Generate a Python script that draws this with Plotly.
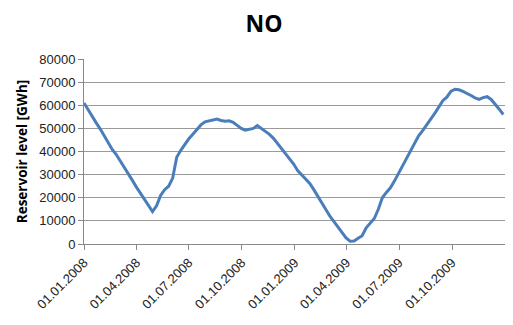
import datetime as dt
import plotly.graph_objects as go

start = dt.date(2008, 1, 1)
levels = [
    61000, 58000, 55200, 52500, 49800, 46900, 43800, 40900, 38700, 36000,
    33200, 30400, 27500, 24600, 21800, 19000, 16300, 14000, 16500, 21000,
    23500, 25000, 28500, 37500, 40500, 43200, 45500, 47500, 49500, 51500,
    52800, 53300, 53600, 54000, 53400, 53100, 53300, 52600, 51300, 50000,
    49200, 49600, 50000, 51200, 50000, 48600, 47400, 45700, 43500, 41000,
    39000, 36800, 34600, 31800, 30000, 28300, 26200, 23500, 20500, 17500,
    14700, 12000, 9700, 7300, 5000, 2600, 1200, 1300, 2500, 3600,
    7000, 8800, 11000, 15000, 20000, 22300, 24300, 27200, 30500, 34200,
    37400, 40800, 43800, 46800, 49000, 51300, 54000, 56500, 59500, 62000,
    63500, 66000, 66900, 66700, 66000, 65200, 64200, 63200, 62500, 63300,
    63700, 62500, 60500, 58300, 56000,
]
dates = [start + dt.timedelta(days=7 * i) for i in range(len(levels))]

tick_dates = ["2008-01-01", "2008-04-01", "2008-07-01", "2008-10-01",
              "2009-01-01", "2009-04-01", "2009-07-01", "2009-10-01", "2010-01-01"]
tick_labels = ["01.01.2008", "01.04.2008", "01.07.2008", "01.10.2008",
               "01.01.2009", "01.04.2009", "01.07.2009", "01.10.2009", ""]
y_ticks = [0, 10000, 20000, 30000, 40000, 50000, 60000, 70000, 80000]
y_labels = [str(v) for v in y_ticks]

fig = go.Figure()
fig.add_trace(go.Scatter(x=dates, y=levels, mode="lines",
                         line=dict(color="#4A7EBB", width=3)))

fig.update_layout(
    width=497, height=309,
    margin=dict(l=76, r=0, t=51, b=73),
    paper_bgcolor="white", plot_bgcolor="white",
    showlegend=False,
    font=dict(family="Liberation Sans, Arial, sans-serif", color="#222"),
    title=dict(text="<b>NO</b>", x=0.515, xanchor="center", y=0.948, yanchor="middle",
               font=dict(size=23, color="black", family="Open Sans, sans-serif")),
)
fig.update_xaxes(
    range=["2008-01-01", "2010-01-01"], automargin=False,
    tickmode="array", tickvals=tick_dates, ticktext=tick_labels,
    tickangle=-45, ticks="outside", ticklen=5, tickcolor="#888",
    showgrid=False, showline=True, linecolor="#888", linewidth=1,
    tickfont=dict(size=13, color="#222"),
)
fig.update_yaxes(
    range=[0, 80000], automargin=False, tickmode="array",
    tickvals=y_ticks, ticktext=y_labels,
    ticks="outside", ticklen=5, tickcolor="#888",
    showgrid=True, gridcolor="#9a9a9a", gridwidth=1,
    showline=True, linecolor="#888", linewidth=1, zeroline=False,
    tickfont=dict(size=13, color="#222"),
    title=dict(text="<b>Reservoir level [GWh]</b>", standoff=8,
               font=dict(size=13.5, color="black", family="Open Sans, sans-serif")),
)

fig.write_html("out.html")
